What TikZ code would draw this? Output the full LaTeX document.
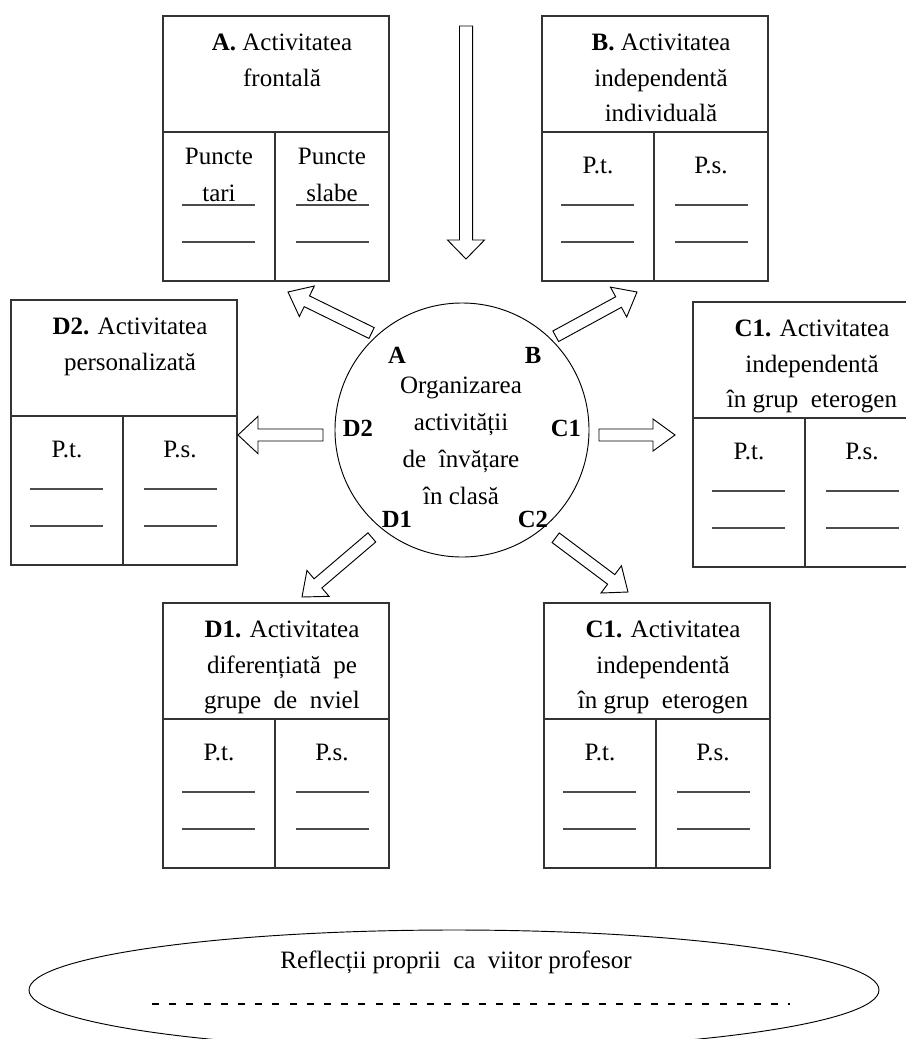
\documentclass[tikz,border=0pt]{standalone}
\usepackage{fontspec}
\setmainfont{Liberation Serif}
\usetikzlibrary{calc,shapes.geometric}

\tikzset{
  actframe/.style={draw=black!80, line width=0.8pt, minimum width=169.5pt, minimum height=198.75pt, inner sep=0pt, outer sep=0pt},
  actline/.style={draw=black!80, line width=0.8pt},
  headtxt/.style={align=center, inner sep=0pt, font=\fontsize{18.75}{26.5}\selectfont},
  coltxt/.style={align=center, inner sep=0pt, font=\fontsize{18.75}{27.75}\selectfont},
  lbl/.style={inner sep=0pt, font=\fontsize{18.5}{20}\selectfont\bfseries},
  blank/.style={draw=black!70, line width=0.9pt},
  fatline/.style={draw, line width=0.7pt, fill=white, line join=miter},
}

% activity box: name, top-left corner, header, left label, right label, label top
\newcommand{\actbox}[6]{%
  \node[actframe, anchor=north west] (#1) at (#2) {};
  \draw[actline] ($(#1.north west)+(0,116)$) -- ($(#1.north east)+(0,116)$);
  \draw[actline] ($(#1.north west)+(112,116)$) -- ($(#1.south west)+(112,0)$);
  \node[headtxt, anchor=north] (#1-head) at ($(#1.north)+(6,18)$) {#3};
  \node[coltxt, anchor=north] (#1-left) at ($(#1.north west)+(56,#6)$) {#4};
  \node[coltxt, anchor=north] (#1-right) at ($(#1.north west)+(169,#6)$) {#5};
  \foreach \yy in {189,226}{
    \draw[blank] ($(#1.north west)+(19,\yy)$) -- +(73,0);
    \draw[blank] ($(#1.north west)+(133,\yy)$) -- +(73,0);
  }
}

% outlined block arrow: tail, tip, half shaft, half head, head length
\newcommand{\fatarrow}[5]{%
  \coordinate (hb) at ($(#2)!#5!(#1)$);
  \draw[fatline] ($(#1)!#3!90:(#2)$) -- ($(hb)!#3!90:(#2)$) -- ($(hb)!#4!90:(#2)$) -- (#2)
    -- ($(hb)!#4!-90:(#2)$) -- ($(hb)!#3!-90:(#2)$) -- ($(#1)!#3!-90:(#2)$) -- cycle;
}

\begin{document}
\begin{tikzpicture}[x=0.75pt,y=0.75pt,yscale=-1,xscale=1]
\useasboundingbox (0,0) rectangle (906,1039);
\clip (0,0) rectangle (906,1039);

% Activity boxes
\actbox{boxA}{163,16}{\textbf{A.} Activitatea\\frontală}{Puncte\\tari}{Puncte\\slabe}{132}
\actbox{boxB}{542,16}{\textbf{B.} Activitatea\\independentă\\individuală}{P.t.}{P.s.}{141}
\actbox{boxDii}{11,300}{\textbf{D2.} Activitatea\\personalizată}{P.t.}{P.s.}{141}
\actbox{boxCi}{693,302}{\textbf{C1.} Activitatea\\independentă\\în grup\ \ eterogen}{P.t.}{P.s.}{141}
\actbox{boxDi}{163,603}{\textbf{D1.} Activitatea\\diferențiată\ \ pe\\grupe\ \ de\ \ nviel}{P.t.}{P.s.}{141}
\actbox{boxCii}{544,603}{\textbf{C1.} Activitatea\\independentă\\în grup\ \ eterogen}{P.t.}{P.s.}{141}

% Centre circle
\node[draw, circle, line width=0.7pt, minimum size=190.5pt, inner sep=0pt] (org) at (462,430) {};
\node[coltxt, anchor=north] (orgtxt) at (461,377) {Organizarea\\activității\\de\ \ învățare\\în clasă};
\node[lbl] (labA) at (397,355) {A};
\node[lbl] (labB) at (533,355) {B};
\node[lbl] (labDii) at (358,428) {D2};
\node[lbl] (labCi) at (566,428) {C1};
\node[lbl] (labDi) at (397,519) {D1};
\node[lbl] (labCii) at (533,519) {C2};

% Arrow ends
\coordinate (top0) at (466,26);
\coordinate (top1) at (466,259);
\coordinate (tA) at ($(org.center)!1.04!(org.133)$);
\coordinate (hA) at (288,292);
\coordinate (tB) at ($(org.center)!1.04!(org.45)$);
\coordinate (hB) at (637,292);
\coordinate (tDii) at (323,435);
\coordinate (hDii) at (238,435);
\coordinate (tCi) at (599,435);
\coordinate (hCi) at (675,435);
\coordinate (tDi) at ($(org.center)!1.1!(org.-130)$);
\coordinate (hDi) at (302,597);
\coordinate (tCii) at ($(org.center)!1.12!(org.-49)$);
\coordinate (hCii) at (628,592);

% Block arrows
\fatarrow{top0}{top1}{4.9pt}{13.9pt}{14.25pt}
\fatarrow{tA}{hA}{4.5pt}{12.75pt}{15.75pt}
\fatarrow{tB}{hB}{4.5pt}{12.75pt}{15.75pt}
\fatarrow{tDii}{hDii}{4.5pt}{14pt}{15pt}
\fatarrow{tCi}{hCi}{4.5pt}{12pt}{16.5pt}
\fatarrow{tDi}{hDi}{4.5pt}{12.75pt}{15.75pt}
\fatarrow{tCii}{hCii}{4.5pt}{12.75pt}{15.75pt}

% Reflection ellipse
\node[draw, ellipse, line width=0.7pt, minimum width=637.5pt, minimum height=90pt, inner sep=0pt] (refl) at (454,990) {};
\node[inner sep=0pt, font=\fontsize{18.75}{20}\selectfont] (refltxt) at (456,962) {Reflecții proprii\ \ ca\ \ viitor profesor};
\draw[line width=1.1pt, dash pattern=on 5.25pt off 7.65pt] (152,1004) -- (790,1004);

\end{tikzpicture}
\end{document}
